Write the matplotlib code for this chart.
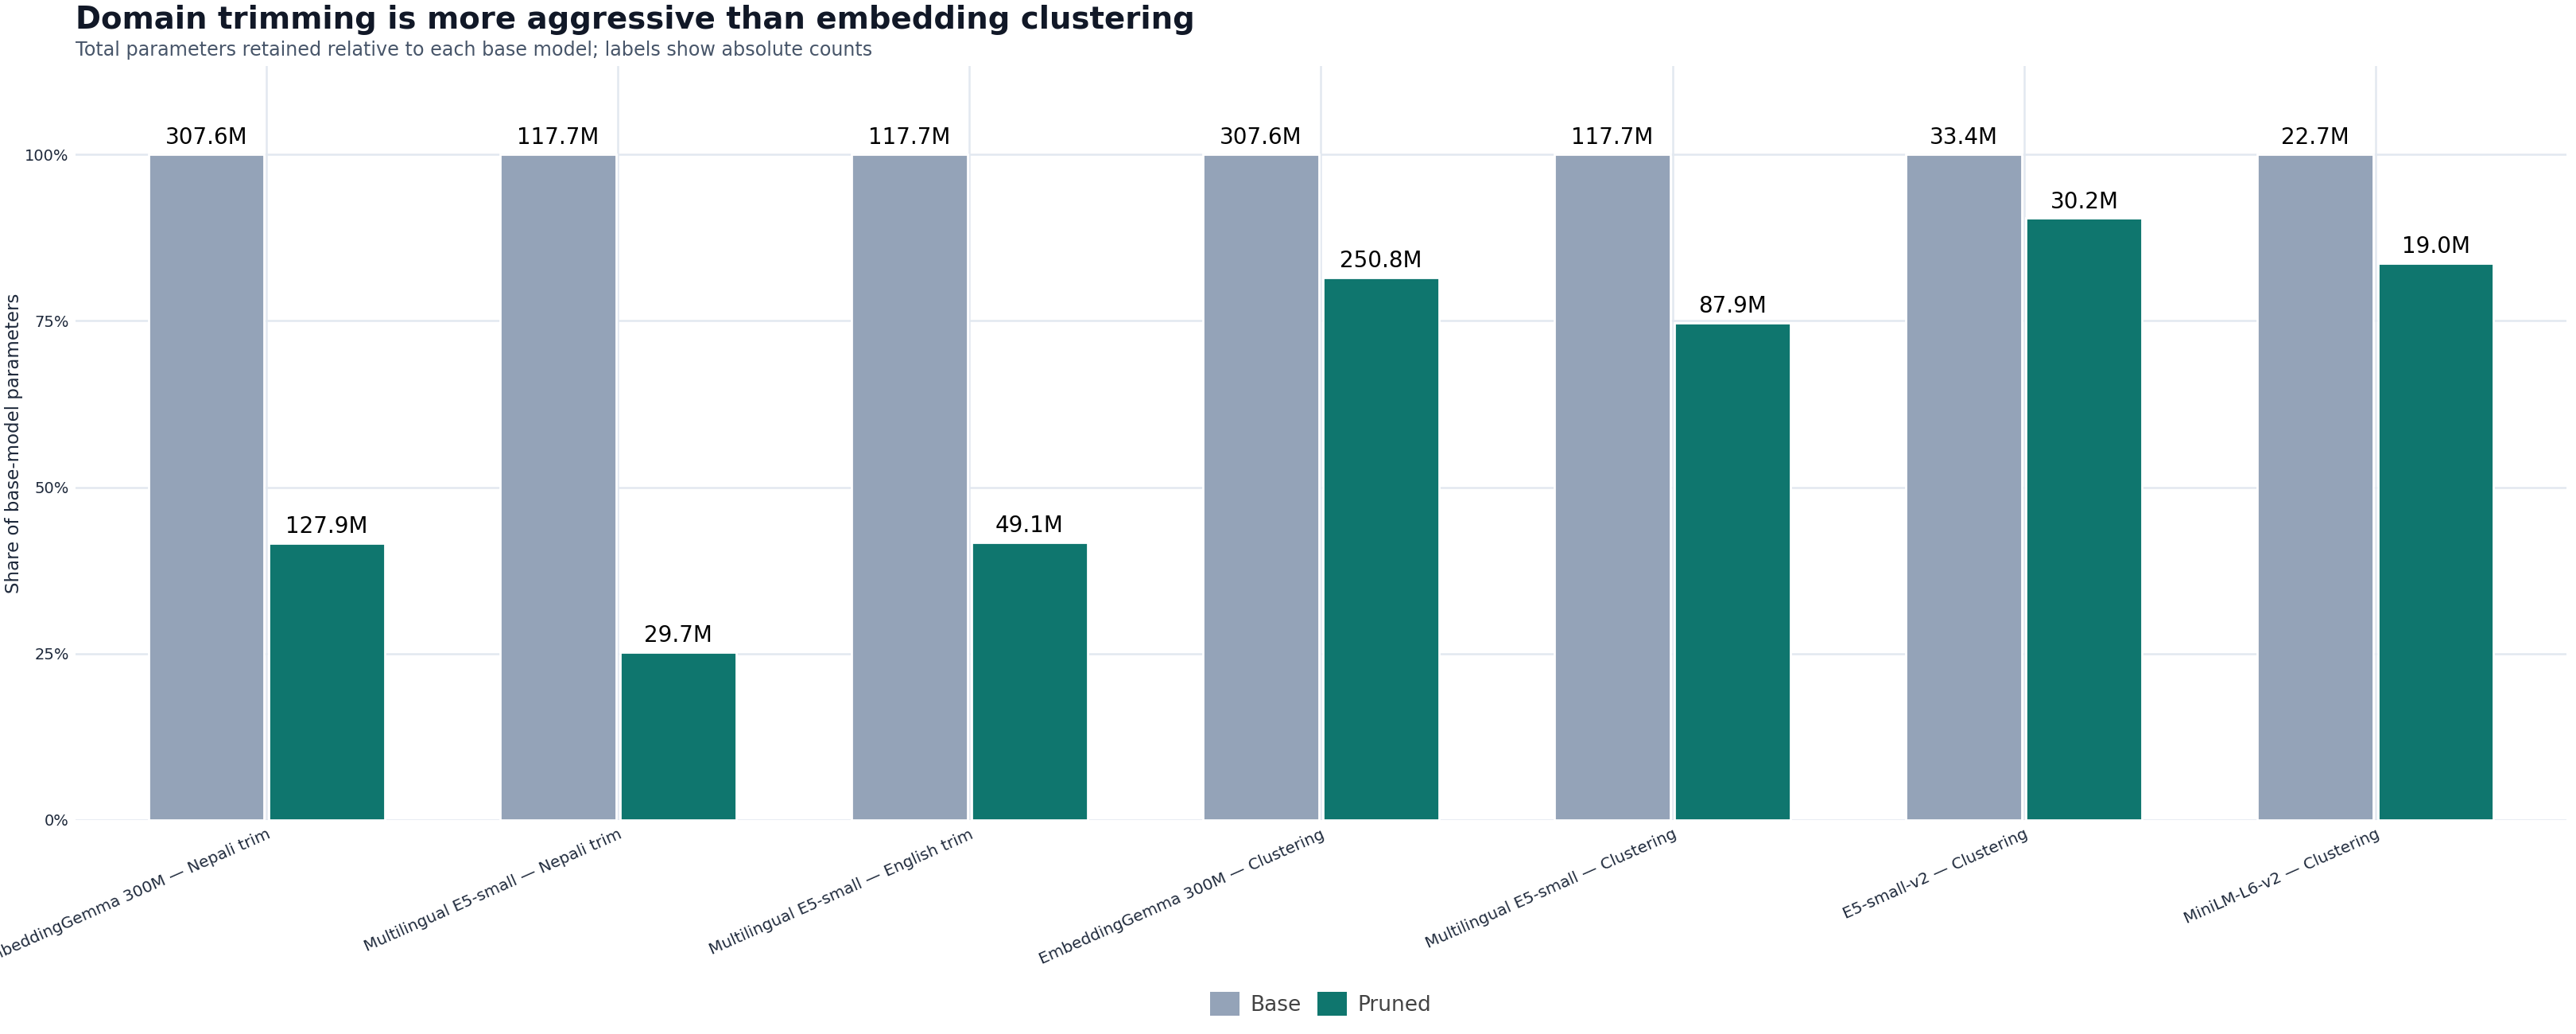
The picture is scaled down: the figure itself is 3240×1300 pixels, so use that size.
import numpy as np
import matplotlib
matplotlib.use('Agg')
import matplotlib.pyplot as plt
from matplotlib.patches import Patch

#==================================================================
# data: absolute parameter counts (millions)
models = ['EmbeddingGemma 300M — Nepali trim',
          'Multilingual E5-small — Nepali trim',
          'Multilingual E5-small — English trim',
          'EmbeddingGemma 300M — Clustering',
          'Multilingual E5-small — Clustering',
          'E5-small-v2 — Clustering',
          'MiniLM-L6-v2 — Clustering']
base_params = [307.6, 117.7, 117.7, 307.6, 117.7, 33.4, 22.7]
pruned_params = [127.9, 29.7, 49.1, 250.8, 87.9, 30.2, 19.0]
y_ticks = [0, 0.25, 0.5, 0.75, 1.0]
y_tick_labels = ['0%', '25%', '50%', '75%', '100%']
#==================================================================

base_share = np.array(base_params) / np.array(base_params)
pruned_share = np.array(pruned_params) / np.array(base_params)

BASE_C = '#94a3b8'
PRUNED_C = '#0f766e'
GRID_C = '#e2e8f0'
TEXT_C = '#1e293b'

W, H = 3240, 1300
fig = plt.figure(figsize=(W / 100, H / 100), dpi=100)
ax = fig.add_axes([95 / W, 1 - 1031 / H, (3228 - 95) / W, (1031 - 83) / H])

x = np.arange(len(models))
bw = 0.33
off = 0.171
b1 = ax.bar(x - off, base_share, width=bw, color=BASE_C, edgecolor='white',
            linewidth=2, zorder=3, label='Base')
b2 = ax.bar(x + off, pruned_share, width=bw, color=PRUNED_C, edgecolor='white',
            linewidth=2, zorder=3, label='Pruned')

# absolute count labels on top of bars
for bars, vals in ((b1, base_params), (b2, pruned_params)):
    for r, v in zip(bars, vals):
        ax.annotate('{:.1f}M'.format(v), (r.get_x() + r.get_width() / 2, r.get_height()),
                    xytext=(0, 5), textcoords='offset points', ha='center', va='bottom',
                    fontsize=20, color='black', zorder=4)

ax.set_xlim(-0.543, len(models) - 1 + 0.543)
ax.set_ylim(0, 1.133)
ax.set_yticks(y_ticks)
ax.set_yticklabels(y_tick_labels)
ax.set_xticks(x)
ax.set_xticklabels(models, rotation=24, ha='right', rotation_mode='anchor')
ax.tick_params(axis='both', length=0, colors=TEXT_C)
ax.tick_params(axis='y', labelsize=14, pad=6)
ax.tick_params(axis='x', labelsize=14.4, pad=6)
for s in ax.spines.values():
    s.set_visible(False)
ax.grid(True, color=GRID_C, linewidth=1.8, zorder=0)
ax.set_axisbelow(True)

fig.text(18 / W, 1 - 557 / H, 'Share of base-model parameters', rotation=90,
         ha='center', va='center', fontsize=16.5, color=TEXT_C)

fig.text(95 / W, 1 - 25 / H, 'Domain trimming is more aggressive than embedding clustering',
         ha='left', va='center', fontsize=27.8, fontweight='bold', color='#111827')
fig.text(95 / W, 1 - 63 / H, 'Total parameters retained relative to each base model; labels show absolute counts',
         ha='left', va='center', fontsize=17.2, color='#475569')

handles = [Patch(facecolor=BASE_C, edgecolor='none', label='Base'),
           Patch(facecolor=PRUNED_C, edgecolor='none', label='Pruned')]
fig.legend(handles=handles, loc='center', bbox_to_anchor=(1661 / W, 1 - 1262 / H), ncol=2,
           frameon=False, fontsize=19, labelcolor='#444444', handlelength=1.4,
           handleheight=1.4, handletextpad=0.5, columnspacing=0.8)

fig.savefig('out.png', dpi=100)
